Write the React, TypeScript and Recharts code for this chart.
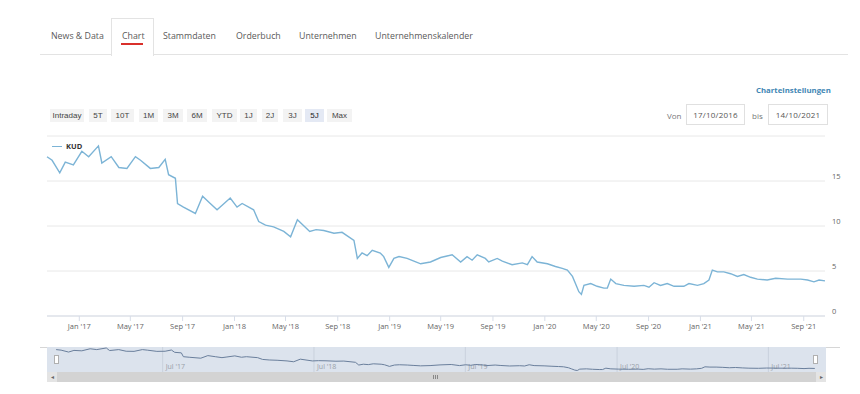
import { LineChart, Line, XAxis, YAxis, CartesianGrid, ReferenceArea, ReferenceLine } from "recharts"

const dates = [
    "2016-10-17", "2016-10-29", "2016-11-16", "2016-11-29", "2016-12-18", "2017-01-07", "2017-01-23", "2017-02-15",
    "2017-02-23", "2017-03-17", "2017-04-04", "2017-04-23", "2017-05-13", "2017-05-25", "2017-06-17", "2017-07-07",
    "2017-07-22", "2017-07-30", "2017-08-15", "2017-08-20", "2017-09-03", "2017-10-01", "2017-10-18", "2017-11-05",
    "2017-11-21", "2017-12-03", "2017-12-22", "2018-01-07", "2018-01-19", "2018-02-15", "2018-02-27", "2018-03-15",
    "2018-04-03", "2018-04-27", "2018-05-13", "2018-05-29", "2018-06-27", "2018-07-12", "2018-07-30", "2018-08-23",
    "2018-09-11", "2018-10-09", "2018-10-17", "2018-10-28", "2018-11-09", "2018-11-21", "2018-12-10", "2018-12-18",
    "2018-12-30", "2019-01-11", "2019-01-23", "2019-02-11", "2019-02-27", "2019-03-15", "2019-04-07", "2019-05-01",
    "2019-05-28", "2019-06-17", "2019-07-02", "2019-07-14", "2019-07-26", "2019-08-14", "2019-08-22", "2019-09-11",
    "2019-09-23", "2019-10-16", "2019-11-09", "2019-11-21", "2019-12-02", "2019-12-14", "2020-01-07", "2020-01-26",
    "2020-02-11", "2020-02-23", "2020-03-06", "2020-03-13", "2020-03-21", "2020-03-27", "2020-04-02", "2020-04-18",
    "2020-05-03", "2020-05-19", "2020-05-27", "2020-06-04", "2020-06-16", "2020-07-05", "2020-07-29", "2020-08-21",
    "2020-09-02", "2020-09-14", "2020-09-29", "2020-10-15", "2020-10-31", "2020-11-23", "2020-12-05", "2020-12-25",
    "2021-01-09", "2021-01-21", "2021-01-29", "2021-02-10", "2021-02-25", "2021-03-13", "2021-03-29", "2021-04-13",
    "2021-04-29", "2021-05-15", "2021-06-07", "2021-06-27", "2021-07-25", "2021-08-25", "2021-09-10", "2021-09-25",
    "2021-10-07", "2021-10-21",
]

const prices = [
    17.7, 17.3, 15.9, 17.1, 16.8, 18.3, 17.7, 18.9,
    17.0, 17.7, 16.5, 16.4, 17.7, 17.3, 16.4, 16.5,
    17.4, 15.7, 15.3, 12.5, 12.1, 11.4, 13.3, 12.5,
    11.8, 12.3, 13.1, 12.1, 12.5, 11.8, 10.5, 10.1,
    9.9, 9.4, 8.8, 10.7, 9.4, 9.6, 9.5, 9.2,
    9.3, 8.4, 6.4, 7.0, 6.7, 7.3, 7.0, 6.6,
    5.4, 6.4, 6.6, 6.4, 6.1, 5.8, 6.0, 6.5,
    6.8, 6.0, 6.6, 6.2, 6.8, 6.4, 6.0, 6.4,
    6.1, 5.7, 5.9, 5.7, 6.6, 6.0, 5.8, 5.5,
    5.3, 5.1, 4.4, 3.6, 2.7, 2.4, 3.4, 3.6,
    3.3, 3.1, 3.1, 4.1, 3.6, 3.4, 3.3, 3.4,
    3.2, 3.7, 3.4, 3.6, 3.3, 3.3, 3.6, 3.4,
    3.6, 4.0, 5.1, 4.9, 4.9, 4.7, 4.4, 4.6,
    4.3, 4.1, 4.0, 4.2, 4.1, 4.1, 4.0, 3.8,
    4.0, 3.9,
]

const yTicks = [0, 5, 10, 15, 20]
const xTickDates = [
    "2017-01-01", "2017-05-01", "2017-09-01", "2018-01-01", "2018-05-01", "2018-09-01", "2019-01-01", "2019-05-01",
    "2019-09-01", "2020-01-01", "2020-05-01", "2020-09-01", "2021-01-01", "2021-05-01", "2021-09-01",
]
const navTickDates = ["2017-07-01", "2018-07-01", "2019-07-01", "2020-07-01", "2021-07-01"]
const monthNames = ["Jan", "Feb", "Mar", "Apr", "May", "Jun", "Jul", "Aug", "Sep", "Oct", "Nov", "Dec"]

const tabs = ["News & Data", "Chart", "Stammdaten", "Orderbuch", "Unternehmen", "Unternehmenskalender"]
const ranges = ["Intraday", "5T", "10T", "1M", "3M", "6M", "YTD", "1J", "2J", "3J", "5J", "Max"]
const fromDate = "17/10/2016"
const toDate = "14/10/2021"
const seriesName = "KUD"

// layout
const tabX = [51, 122, 163, 236, 299, 375]
const btnBox = [[50, 84], [89, 107], [111, 134], [139, 158], [163, 183], [187, 207], [212, 237], [240, 257], [262, 278], [283, 302], [305, 324], [327, 352]]
const LINE = "#7cb4d6"
const FONT = "'Open Sans', sans-serif"
const DAY = 86400000

const ts = (d: string) => Date.parse(d + "T00:00:00Z")
const data = dates.map((d, i) => ({ t: ts(d), kud: prices[i] }))
const first = data[0].t
const last = data[data.length - 1].t
const fmt = (t: number) => {
    const d = new Date(t)
    return `${monthNames[d.getUTCMonth()]} '${String(d.getUTCFullYear()).slice(2)}`
}

const XTick = (props: any) => {
    const { x, payload } = props
    return (
        <text x={x} y={209} textAnchor="middle" fontSize={7.5} fill="#666" fontFamily={FONT}>
            {fmt(payload.value)}
        </text>
    )
}

const YTick = (props: any) => {
    const { y, payload } = props
    if (payload.value === 20) return null
    return (
        <text x={832} y={y - 2} textAnchor="start" fontSize={7.5} fill="#666" fontFamily={FONT}>
            {payload.value}
        </text>
    )
}

const NavLabel = (props: any) => {
    const { viewBox, value } = props
    return (
        <text x={viewBox.x + 3} y={22} fontSize={7} fill="#9aa0a8" fontFamily={FONT}>
            {value}
        </text>
    )
}

export default function App() {
    return (
        <div style={{ position: "absolute", left: 0, top: 0, width: 860, height: 394, background: "#fff", overflow: "hidden", fontFamily: FONT }}>
            {/* tabs */}
            <div style={{ position: "absolute", left: 40, top: 54, width: 808, height: 1, background: "#e3e3e3" }} />
            <div style={{ position: "absolute", left: 111, top: 18, width: 41, height: 37, border: "1px solid #e3e3e3", borderBottom: "none", background: "#fff" }} />
            {tabs.map((t, i) => (
                <div key={t} style={{ position: "absolute", left: tabX[i], top: 30, fontSize: 8.8, color: "#5a5a5a", lineHeight: "13px", whiteSpace: "nowrap" }}>
                    {t}
                </div>
            ))}
            <div style={{ position: "absolute", left: 121, top: 43, width: 22, height: 2, background: "#d9302b" }} />

            {/* range buttons */}
            {ranges.map((r, i) => (
                <div key={r} style={{
                    position: "absolute", left: btnBox[i][0], top: 109, width: btnBox[i][1] - btnBox[i][0], height: 13,
                    background: r === "5J" ? "#e4e9f4" : "#f3f3f3", color: r === "5J" ? "#222" : "#444",
                    fontFamily: "'Liberation Sans', Arial, sans-serif", fontSize: 8, lineHeight: "13px", textAlign: "center",
                }}>
                    {r}
                </div>
            ))}

            {/* settings & dates */}
            <div style={{ position: "absolute", left: 756, top: 85, fontSize: 7.8, fontWeight: 700, color: "#3f86b4", whiteSpace: "nowrap" }}>Charteinstellungen</div>
            <div style={{ position: "absolute", left: 667, top: 110, fontSize: 8, color: "#777" }}>Von</div>
            <div style={{ position: "absolute", left: 686, top: 104, width: 57, height: 19, border: "1px solid #e0e0e0", fontSize: 8, color: "#555", lineHeight: "19px", textAlign: "center", letterSpacing: 0.2 }}>{fromDate}</div>
            <div style={{ position: "absolute", left: 752, top: 110, fontSize: 8, color: "#777" }}>bis</div>
            <div style={{ position: "absolute", left: 768, top: 104, width: 58, height: 19, border: "1px solid #e0e0e0", fontSize: 8, color: "#555", lineHeight: "19px", textAlign: "center", letterSpacing: 0.2 }}>{toDate}</div>

            {/* main chart */}
            <div style={{ position: "absolute", left: 0, top: 120 }}>
                <LineChart width={860} height={220} data={data} margin={{ top: 16, right: 0, bottom: 0, left: 47 }}>
                    <CartesianGrid horizontal vertical={false} stroke="#e8e8e8" />
                    <XAxis
                        dataKey="t"
                        type="number"
                        domain={[first, last]}
                        ticks={xTickDates.map(ts)}
                        height={24}
                        tickSize={5}
                        axisLine={{ stroke: "#d7dde8" }}
                        tickLine={{ stroke: "#d7dde8" }}
                        tick={<XTick />}
                        interval={0}
                    />
                    <YAxis
                        orientation="right"
                        width={35}
                        domain={[0, 20]}
                        ticks={yTicks}
                        axisLine={false}
                        tickLine={false}
                        tick={<YTick />}
                        interval={0}
                    />
                    <Line type="linear" dataKey="kud" stroke={LINE} strokeWidth={1.4} dot={false} isAnimationActive={false} />
                </LineChart>
            </div>

            {/* legend */}
            <div style={{ position: "absolute", left: 52, top: 145.5, width: 10, height: 1.4, background: LINE }} />
            <div style={{ position: "absolute", left: 66, top: 141, fontSize: 7.5, fontWeight: 700, color: "#333", lineHeight: "10px" }}>{seriesName}</div>

            {/* navigator */}
            <div style={{ position: "absolute", left: 40, top: 347, width: 800, height: 1, background: "#d6d6d6" }} />
            <div style={{ position: "absolute", left: 0, top: 347 }}>
                <LineChart width={860} height={25} data={data} margin={{ top: 0, right: 34, bottom: 0, left: 47 }}>
                    <XAxis dataKey="t" type="number" hide domain={[first - 22 * DAY, last + 27 * DAY]} />
                    <YAxis hide domain={[1.3, 19.6]} />
                    <ReferenceArea x1={first - 22 * DAY} x2={last + 27 * DAY} y1={1.3} y2={19.6} fill="#dce3ed" fillOpacity={1} stroke="none" />
                    {navTickDates.map((d) => (
                        <ReferenceLine key={d} x={ts(d)} stroke="#c9d1dd" label={<NavLabel value={fmt(ts(d))} />} />
                    ))}
                    <Line type="linear" dataKey="kud" stroke="#6a7f9c" strokeWidth={1} dot={false} isAnimationActive={false} />
                </LineChart>
            </div>
            {/* handles */}
            <div style={{ position: "absolute", left: 54, top: 355, width: 3, height: 7, background: "#fff", border: "1px solid #b0b0b0" }} />
            <div style={{ position: "absolute", left: 813, top: 355, width: 3, height: 7, background: "#fff", border: "1px solid #b0b0b0" }} />

            {/* scrollbar */}
            <div style={{ position: "absolute", left: 47, top: 372, width: 779, height: 10, background: "#d3d3d3" }} />
            <div style={{ position: "absolute", left: 47, top: 372, width: 10, height: 10, background: "#e4e4e4", fontSize: 6, color: "#666", lineHeight: "10px", textAlign: "center" }}>◂</div>
            <div style={{ position: "absolute", left: 816, top: 372, width: 10, height: 10, background: "#e4e4e4", fontSize: 6, color: "#666", lineHeight: "10px", textAlign: "center" }}>▸</div>
            <div style={{ position: "absolute", left: 433, top: 375, width: 1, height: 4, background: "#888" }} />
            <div style={{ position: "absolute", left: 435, top: 375, width: 1, height: 4, background: "#888" }} />
            <div style={{ position: "absolute", left: 437, top: 375, width: 1, height: 4, background: "#888" }} />
        </div>
    )
}
